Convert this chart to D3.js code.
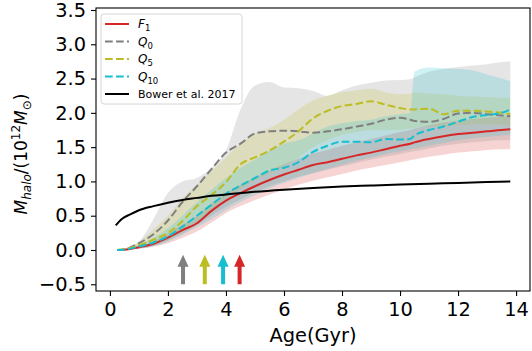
<!DOCTYPE html>
<html>
<head>
<meta charset="utf-8">
<script src="https://cdn.jsdelivr.net/npm/d3@7"></script>
<style>
  body { margin: 0; background: #fff; }
  text { font-family: "DejaVu Sans", sans-serif; }
</style>
</head>
<body>
<div id="chart"></div>
<script>
// Ages (Gyr) shared by all four median curves and their bands.
let ages = [0.25, 0.5, 1, 1.5, 2, 2.5, 3, 3.5, 4, 4.5, 5, 5.5, 6, 6.5, 7, 7.5, 8, 8.5, 9, 9.5, 10, 10.35, 10.5, 11, 11.5, 12, 12.5, 13, 13.5, 13.8];

// Median halo mass (10^12 Msun).
let f1 = [0, 0.005, 0.04, 0.09, 0.18, 0.29, 0.39, 0.57, 0.72, 0.83, 0.93, 1.02, 1.10, 1.17, 1.24, 1.28, 1.33, 1.38, 1.42, 1.47, 1.52, 1.55, 1.57, 1.62, 1.66, 1.69, 1.71, 1.73, 1.75, 1.76];
let q0 = [0, 0.01, 0.10, 0.23, 0.43, 0.70, 0.93, 1.18, 1.42, 1.55, 1.70, 1.73, 1.74, 1.73, 1.71, 1.73, 1.76, 1.80, 1.84, 1.90, 1.93, 1.90, 1.88, 1.87, 1.91, 1.99, 2.00, 1.98, 1.96, 1.95];
let q5 = [0, 0.01, 0.07, 0.15, 0.25, 0.42, 0.64, 0.80, 0.99, 1.25, 1.35, 1.45, 1.58, 1.73, 1.92, 2.03, 2.10, 2.13, 2.17, 2.12, 2.07, 2.05, 2.05, 2.06, 1.98, 2.03, 2.03, 2.02, 2.00, 1.98];
let q10 = [0, 0.005, 0.05, 0.11, 0.20, 0.34, 0.50, 0.66, 0.82, 0.94, 1.05, 1.16, 1.20, 1.28, 1.43, 1.52, 1.58, 1.58, 1.57, 1.62, 1.61, 1.62, 1.67, 1.75, 1.80, 1.87, 1.94, 1.97, 2.00, 2.05];

// Scatter bands (lower / upper).
let f1Lo = [0, 0, 0.02, 0.05, 0.10, 0.18, 0.27, 0.40, 0.54, 0.64, 0.73, 0.81, 0.88, 0.95, 1.01, 1.06, 1.11, 1.16, 1.20, 1.24, 1.28, 1.31, 1.32, 1.36, 1.39, 1.42, 1.44, 1.46, 1.47, 1.47];
let f1Hi = [0, 0.01, 0.06, 0.13, 0.24, 0.37, 0.50, 0.68, 0.83, 0.95, 1.06, 1.16, 1.25, 1.33, 1.41, 1.46, 1.52, 1.57, 1.62, 1.67, 1.72, 1.75, 1.77, 1.82, 1.86, 1.89, 1.91, 1.93, 1.94, 1.95];
let q0Lo = [0, 0, 0.02, 0.06, 0.14, 0.24, 0.36, 0.50, 0.63, 0.74, 0.84, 0.93, 1.00, 1.07, 1.12, 1.17, 1.22, 1.27, 1.32, 1.36, 1.40, 1.43, 1.44, 1.48, 1.52, 1.55, 1.57, 1.59, 1.60, 1.60];
let q0Hi = [0, 0.02, 0.12, 0.45, 0.83, 1.00, 1.05, 1.20, 1.45, 2.05, 2.40, 2.45, 2.37, 2.36, 2.32, 2.25, 2.33, 2.40, 2.44, 2.47, 2.48, 2.49, 2.52, 2.60, 2.64, 2.67, 2.69, 2.71, 2.74, 2.75];
let q5Lo = [0, 0, 0.03, 0.08, 0.15, 0.27, 0.42, 0.58, 0.75, 0.90, 1.02, 1.12, 1.22, 1.35, 1.50, 1.60, 1.68, 1.72, 1.75, 1.75, 1.75, 1.77, 1.78, 1.80, 1.80, 1.82, 1.83, 1.83, 1.83, 1.82];
let q5Hi = [0, 0.02, 0.12, 0.30, 0.50, 0.75, 0.95, 1.15, 1.35, 1.55, 1.70, 1.78, 1.90, 2.05, 2.18, 2.25, 2.30, 2.33, 2.35, 2.30, 2.27, 2.28, 2.30, 2.28, 2.27, 2.25, 2.24, 2.23, 2.22, 2.22];
let q10Lo = [0, 0, 0.02, 0.05, 0.12, 0.22, 0.33, 0.45, 0.58, 0.70, 0.80, 0.90, 0.98, 1.05, 1.12, 1.18, 1.24, 1.30, 1.35, 1.40, 1.44, 1.47, 1.48, 1.52, 1.56, 1.60, 1.63, 1.65, 1.67, 1.68];
let q10Hi = [0, 0.01, 0.08, 0.18, 0.32, 0.50, 0.70, 0.88, 1.05, 1.20, 1.32, 1.45, 1.55, 1.60, 1.70, 1.80, 1.85, 1.88, 1.90, 1.95, 1.98, 2.00, 2.60, 2.66, 2.65, 2.64, 2.62, 2.56, 2.50, 2.46];

// Bower et al. 2017 reference curve.
let bowerAge = [0.2, 0.4, 0.7, 1.0, 1.5, 2, 2.5, 3, 3.5, 4, 5, 6, 7, 8, 9, 10, 11, 12, 13, 13.8];
let bowerMass = [0.36, 0.45, 0.52, 0.58, 0.64, 0.69, 0.73, 0.76, 0.79, 0.81, 0.85, 0.88, 0.905, 0.925, 0.94, 0.955, 0.967, 0.978, 0.99, 1.0];

// Arrow markers (age where each sample crosses the threshold).
let arrowAges = [2.52, 3.27, 3.9, 4.47];
let arrowColors = ["#7f7f7f", "#bcbd22", "#17becf", "#d62728"];
let arrowBase = -0.5, arrowTip = -0.07;

let xTicks = [0, 2, 4, 6, 8, 10, 12, 14];
let yTicks = [-0.5, 0, 0.5, 1, 1.5, 2, 2.5, 3, 3.5];

let width = 532, height = 351;
let padL = 96, padR = 530, padT = 8, padB = 291;

let svg = d3.select("#chart").append("svg")
    .attr("width", width)
    .attr("height", height);

let x = d3.scaleLinear().domain([-0.48, 14.48]).range([padL, padR]);
let y = d3.scaleLinear().domain([-0.598, 3.529]).range([padB, padT]);

svg.append("clipPath").attr("id", "clip")
    .append("rect").attr("x", padL).attr("y", padT)
    .attr("width", padR - padL).attr("height", padB - padT);

let plot = svg.append("g").attr("clip-path", "url(#clip)");

let dashed = "7.7,3.3";
let series = [
    { name: "F1", mid: f1, lo: f1Lo, hi: f1Hi, color: "#d62728", dash: null },
    { name: "Q0", mid: q0, lo: q0Lo, hi: q0Hi, color: "#7f7f7f", dash: dashed },
    { name: "Q5", mid: q5, lo: q5Lo, hi: q5Hi, color: "#bcbd22", dash: dashed },
    { name: "Q10", mid: q10, lo: q10Lo, hi: q10Hi, color: "#17becf", dash: dashed }
];

let area = d3.area()
    .x(d => x(d.age))
    .y0(d => y(d.lo))
    .y1(d => y(d.hi))
    .curve(d3.curveMonotoneX);

let line = d3.line()
    .x(d => x(d.age))
    .y(d => y(d.v))
    .curve(d3.curveMonotoneX);

// Bands first, then the lines on top.
series.forEach(s => {
    let rows = ages.map((a, i) => ({ age: a, lo: s.lo[i], hi: s.hi[i] }));
    plot.append("path")
        .attr("d", area(rows))
        .attr("fill", s.color)
        .attr("fill-opacity", 0.2);
});

series.forEach(s => {
    let rows = ages.map((a, i) => ({ age: a, v: s.mid[i] }));
    plot.append("path")
        .attr("d", line(rows))
        .attr("fill", "none")
        .attr("stroke", s.color)
        .attr("stroke-width", 2)
        .attr("stroke-dasharray", s.dash);
});

plot.append("path")
    .attr("d", line(bowerAge.map((a, i) => ({ age: a, v: bowerMass[i] }))))
    .attr("fill", "none")
    .attr("stroke", "#000")
    .attr("stroke-width", 2);

// Arrows.
arrowAges.forEach((a, i) => {
    let cx = x(a), yb = y(arrowBase), yt = y(arrowTip);
    let headLen = 12, shaft = 2, head = 5.5;
    let pts = [
        [cx - shaft, yb], [cx - shaft, yt + headLen], [cx - head, yt + headLen],
        [cx, yt], [cx + head, yt + headLen], [cx + shaft, yt + headLen], [cx + shaft, yb]
    ];
    plot.append("polygon")
        .attr("points", pts.map(p => p.join(",")).join(" "))
        .attr("fill", arrowColors[i]);
});

// Axes.
let xAxis = svg.append("g")
    .attr("transform", "translate(0," + padB + ")")
    .call(d3.axisBottom(x).tickValues(xTicks).tickSize(5).tickPadding(6).tickFormat(d3.format("d")));
let yAxis = svg.append("g")
    .attr("transform", "translate(" + padL + ",0)")
    .call(d3.axisLeft(y).tickValues(yTicks).tickSize(5).tickPadding(5).tickFormat(d3.format(".1f")));

[xAxis, yAxis].forEach(g => {
    g.select(".domain").remove();
    g.selectAll(".tick line").attr("stroke", "#000").attr("stroke-width", 1.1);
    g.selectAll(".tick text").attr("fill", "#000").attr("font-size", 19.4)
        .attr("font-family", "DejaVu Sans");
});

svg.append("rect")
    .attr("x", padL).attr("y", padT)
    .attr("width", padR - padL).attr("height", padB - padT)
    .attr("fill", "none").attr("stroke", "#000").attr("stroke-width", 1.1);

// Axis labels.
svg.append("text")
    .attr("x", (padL + padR) / 2).attr("y", 342)
    .attr("text-anchor", "middle")
    .attr("font-size", 19.4)
    .text("Age(Gyr)");

let ylab = svg.append("text")
    .attr("transform", "translate(27,154) rotate(-90)")
    .attr("text-anchor", "middle")
    .attr("font-family", "DejaVu Sans")
    .attr("font-size", 17);
ylab.append("tspan").attr("font-style", "italic").text("M");
ylab.append("tspan").attr("font-style", "italic").attr("font-size", 12).attr("dy", 4).text("halo");
ylab.append("tspan").attr("dy", -4).text("/(10");
ylab.append("tspan").attr("font-size", 12).attr("dy", -7).text("12");
ylab.append("tspan").attr("font-style", "italic").attr("dy", 7).text("M");
ylab.append("tspan").attr("font-size", 12).attr("dy", 4).text("\u2299");
ylab.append("tspan").attr("dy", -4).text(")");

// Legend.
let legend = svg.append("g");
legend.append("rect")
    .attr("x", 101).attr("y", 14).attr("width", 141).attr("height", 90)
    .attr("rx", 3).attr("fill", "#fff").attr("fill-opacity", 0.8)
    .attr("stroke", "#d6d6d6").attr("stroke-width", 1);

let legendItems = [
    { main: "F", sub: "1", color: "#d62728", dash: null },
    { main: "Q", sub: "0", color: "#7f7f7f", dash: dashed },
    { main: "Q", sub: "5", color: "#bcbd22", dash: dashed },
    { main: "Q", sub: "10", color: "#17becf", dash: dashed },
    { main: "Bower et al. 2017", sub: null, color: "#000", dash: null }
];

legendItems.forEach((d, i) => {
    let ly = 24 + i * 17.5;
    legend.append("line")
        .attr("x1", 105).attr("x2", 129).attr("y1", ly).attr("y2", ly)
        .attr("stroke", d.color).attr("stroke-width", 2)
        .attr("stroke-dasharray", d.dash);
    let t = legend.append("text")
        .attr("x", 138).attr("y", ly + 4)
        .attr("font-size", 11);
    if (d.sub) {
        t.append("tspan").attr("font-style", "italic").attr("font-size", 12).text(d.main);
        t.append("tspan").attr("font-size", 8.5).attr("dy", 3).text(d.sub);
    } else {
        t.text(d.main);
    }
});
</script>
</body>
</html>
